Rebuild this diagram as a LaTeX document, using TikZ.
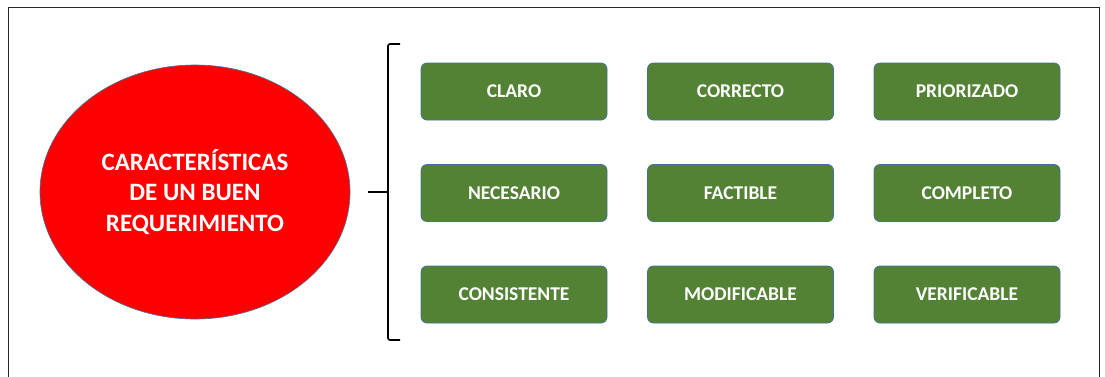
\documentclass[tikz,border=0pt]{standalone}
\usepackage{fontspec}
\setmainfont{Carlito}
\usetikzlibrary{shapes.geometric}
\definecolor{boxgreen}{HTML}{548235}
\definecolor{boxedge}{HTML}{41719C}
\definecolor{ellred}{HTML}{FF0000}
\tikzset{
  charbox/.style={draw=boxedge, line width=0.8pt, fill=boxgreen, rounded corners=6pt,
    minimum width=186pt, minimum height=57pt, inner sep=0pt,
    text=white, font=\fontsize{19.5}{22}\selectfont\bfseries},
  mainell/.style={ellipse, draw=boxedge, line width=0.6pt, fill=ellred,
    minimum width=310pt, minimum height=254pt, inner sep=0pt,
    text=white, align=center, font=\fontsize{25}{30.5}\selectfont\bfseries},
  brace/.style={line width=1.6pt, black, rounded corners=2pt},
}
\begin{document}
\begin{tikzpicture}[x=1pt,y=-1pt]
\useasboundingbox (0,0) rectangle (1105,376);
\draw[line width=0.8pt, black!85] (8,380) -- (8,7) -- (1099,7) -- (1099,380);
\node[mainell] (main) at (195,192) {CARACTERÍSTICAS\\DE UN BUEN\\REQUERIMIENTO};
\coordinate (bt) at (400,44);
\coordinate (bb) at (400,340);
\coordinate (bm) at (388,192);
\coordinate (stub) at (368,192);
\draw[brace] (bt) -- (388,44) -- (388,340) -- (bb);
\draw[line width=1.6pt] (stub) -- (bm);
\node[charbox] (b11) at (514,91.5) {CLARO};
\node[charbox] (b12) at (740.5,91.5) {CORRECTO};
\node[charbox] (b13) at (967,91.5) {PRIORIZADO};
\node[charbox] (b21) at (514,193) {NECESARIO};
\node[charbox] (b22) at (740.5,193) {FACTIBLE};
\node[charbox] (b23) at (967,193) {COMPLETO};
\node[charbox] (b31) at (514,294.5) {CONSISTENTE};
\node[charbox] (b32) at (740.5,294.5) {MODIFICABLE};
\node[charbox] (b33) at (967,294.5) {VERIFICABLE};
\end{tikzpicture}
\end{document}
